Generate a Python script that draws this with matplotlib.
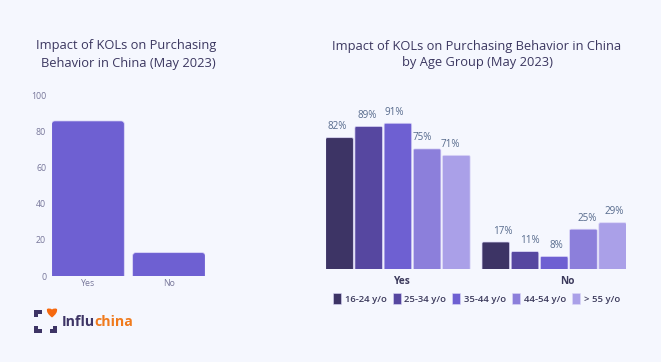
import matplotlib
matplotlib.use('Agg')
import matplotlib.pyplot as plt
from matplotlib.patches import FancyBboxPatch, PathPatch, Rectangle
from matplotlib.path import Path

plt.rcParams['font.family'] = ['Open Sans', 'DejaVu Sans']

# left chart
overall_labels = ['Yes', 'No']
overall_values = [85.8, 12.9]
overall_ticks = [0, 20, 40, 60, 80, 100]

# right chart
groups = ['Yes', 'No']
ages = ['16-24 y/o', '25-34 y/o', '35-44 y/o', '44-54 y/o', '> 55 y/o']
yes_values = [82, 89, 91, 75, 71]
no_values = [17, 11, 8, 25, 29]

age_colors = ['#3d3465', '#5647a0', '#6e60d2', '#8c7fdb', '#aaa0e8']
bg = '#f5f7fe'
W, H = 661, 362


def add_axes_px(fig, x0, x1, y_top, y_bottom):
    return fig.add_axes([x0 / W, 1 - y_bottom / H, (x1 - x0) / W, (y_bottom - y_top) / H])


def round_bars(ax, bars, radius_px):
    # swap the plain rectangles for ones with rounded top corners
    box = ax.get_position()
    x0, x1 = ax.get_xlim()
    y0, y1 = ax.get_ylim()
    x_per_px = (x1 - x0) / (box.width * W)
    y_per_px = (y1 - y0) / (box.height * H)
    rad = radius_px * x_per_px
    aspect = y_per_px / x_per_px
    for b in list(bars):
        extra = rad * aspect
        p = FancyBboxPatch((b.get_x(), -extra), b.get_width(), b.get_height() + extra,
                           boxstyle='round,pad=0,rounding_size=%f' % rad,
                           mutation_aspect=aspect, facecolor=b.get_facecolor(),
                           edgecolor='#dcd8f8', linewidth=0.5)
        ax.add_patch(p)
        b.remove()


def clean(ax):
    ax.set_facecolor('none')
    for s in ax.spines.values():
        s.set_visible(False)


fig = plt.figure(figsize=(W / 100, H / 100), dpi=100, facecolor=bg)

# left chart
ax = add_axes_px(fig, 51.7, 205, 95.3, 276)
clean(ax)
ax.set_xlim(-0.448, 1.445)
ax.set_ylim(0, 100)
bars = ax.bar([0, 1], overall_values, width=0.896, color='#6e60d2')
ax.set_xticks([0, 1], overall_labels)
ax.set_yticks(overall_ticks)
ax.tick_params(length=0, labelsize=6.3, labelcolor='#77779a', pad=4)
ax.tick_params(axis='x', pad=2.5)
round_bars(ax, bars, 3)

# right chart
ax2 = add_axes_px(fig, 325.7, 626.3, 100, 269.3)
clean(ax2)
pitch = 29.2
ax2.set_xlim(0, 300.6 / pitch)
ax2.set_ylim(0, 169.3 / 1.605)
gap = 156.3 / pitch
label_dx = [[-2.5, -1.5, -4, -4.5, -6], [6.5, 5, 2.5, 4, 1.5]]
handles = []
for i, age in enumerate(ages):
    xs = [i + 0.473, i + 0.473 + gap]
    vals = [yes_values[i], no_values[i]]
    bars = ax2.bar(xs, vals, width=0.945, color=age_colors[i], label=age)
    handles.append(Rectangle((0, 0), 1, 1, facecolor=age_colors[i], edgecolor='#dcd8f8', linewidth=0.4))
    round_bars(ax2, bars, 1.5)
    for j in range(2):
        ax2.annotate('%d%%' % vals[j], (xs[j], vals[j]), xytext=(label_dx[j][i] * 0.72, 11 * 0.72),
                     textcoords='offset points', ha='center', va='center',
                     fontsize=7.1, color='#566a8c')
ax2.set_xticks([(401 - 325.7) / pitch, (567 - 325.7) / pitch], groups)
ax2.tick_params(length=0, pad=5)
for t in ax2.get_xticklabels():
    t.set_fontsize(7.3)
    t.set_fontweight('bold')
    t.set_color('#3c3a5c')
ax2.set_yticks([])
ax2.legend(handles, ages, ncol=5, frameon=False, loc='center',
           bbox_to_anchor=((476.7 - 325.7) / 300.6, -(298.5 - 269.3) / 169.3),
           handlelength=0.85, handleheight=1.4, handletextpad=0.4,
           columnspacing=0.63, labelcolor='#3c3a5c', prop={'size': 6.8, 'weight': 600})

# titles and logo on a pixel overlay
over = fig.add_axes([0, 0, 1, 1])
over.set_xlim(0, W)
over.set_ylim(H, 0)
over.axis('off')
title_color = '#3b3760'
over.text(126, 46, 'Impact of KOLs on Purchasing', ha='center', va='center', fontsize=9.25, color=title_color)
over.text(128, 63, 'Behavior in China (May 2023)', ha='center', va='center', fontsize=9.25, color=title_color)
over.text(477, 54.5, 'Impact of KOLs on Purchasing Behavior in China\nby Age Group (May 2023)', ha='center', va='center',
          fontsize=9.25, color=title_color, linespacing=1.35)

# logo corners
dark = '#3d3465'
for cx, cy, sx, sy in [(34, 309.5, 1, 1), (34, 333, 1, -1), (57, 333, -1, -1)]:
    verts = [(cx, cy), (cx + sx * 7.5, cy), (cx + sx * 7.5, cy + sy * 4), (cx + sx * 4, cy + sy * 4),
             (cx + sx * 4, cy + sy * 7.5), (cx, cy + sy * 7.5), (cx, cy)]
    over.add_patch(PathPatch(Path(verts, closed=True), facecolor=dark, edgecolor='none'))
heart = Path([(52, 317.5), (46, 313), (47, 309), (49.5, 307.5), (52, 309.5), (54.5, 307.5), (57, 309), (58, 313), (52, 317.5)],
             [Path.MOVETO, Path.CURVE3, Path.CURVE3, Path.CURVE3, Path.CURVE3, Path.CURVE3, Path.CURVE3, Path.CURVE3, Path.CURVE3])
over.add_patch(PathPatch(heart, facecolor='#f6690f', edgecolor='none'))
over.text(62, 321.5, 'Influ', fontsize=10.2, fontweight='bold', color=dark, ha='left', va='center')
over.text(94.5, 321.5, 'china', fontsize=10.2, fontweight='bold', color='#f07a1c', ha='left', va='center')

fig.savefig('out.png', dpi=100, facecolor=bg)
